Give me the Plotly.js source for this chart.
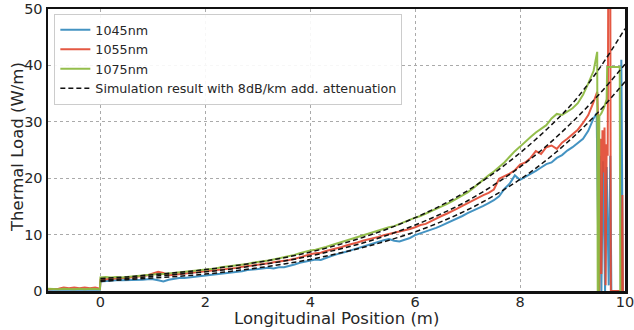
<!DOCTYPE html>
<html>
<head>
<meta charset="utf-8">
<script src="https://cdn.plot.ly/plotly-3.0.1.min.js"></script>
<style>html,body{margin:0;padding:0;background:#fff;}#chart{width:634px;height:330px;}</style>
</head>
<body>
<div id="chart"></div>
<script>
// Shared sample positions (m) for the measured curves
const positions = [-1.0,-0.9,-0.8,-0.7,-0.6,-0.5,-0.4,-0.3,-0.2,-0.1,-0.01,
 0.0,0.1,0.2,0.3,0.4,0.5,0.6,0.7,0.8,0.9,1.0,1.1,1.2,1.3,1.4,1.5,1.6,1.7,1.8,1.9,
 2.0,2.1,2.2,2.3,2.4,2.5,2.6,2.7,2.8,2.9,3.0,3.1,3.2,3.3,3.4,3.5,3.6,3.7,3.8,3.9,
 4.0,4.1,4.2,4.3,4.4,4.5,4.6,4.7,4.8,4.9,5.0,5.1,5.2,5.3,5.4,5.5,5.6,5.7,5.8,5.9,
 6.0,6.1,6.2,6.3,6.4,6.5,6.6,6.7,6.8,6.9,7.0,7.1,7.2,7.3,7.4,7.5,7.6,7.7,7.8,7.9,
 8.0,8.1,8.2,8.3,8.4,8.5,8.6,8.7,8.8,8.9,9.0,9.1,9.2,9.3,9.4];

const load1045 = [0.2,0.2,0.3,0.2,0.3,0.2,0.3,0.2,0.3,0.2,0.2,
 1.7,1.8,1.8,1.9,1.9,1.9,2.0,2.0,2.0,2.1,2.1,1.9,1.7,2.0,2.2,2.3,2.3,2.4,2.5,2.6,
 2.7,2.8,2.9,3.0,3.2,3.3,3.4,3.5,3.7,3.8,3.9,4.0,4.1,4.0,4.2,4.2,4.4,4.7,5.0,5.2,
 5.4,5.6,5.5,5.9,6.2,6.5,6.7,7.0,7.3,7.6,7.9,8.1,8.4,8.7,9.0,9.2,8.9,8.8,9.1,9.4,
 9.9,10.2,10.5,10.8,11.2,11.6,12.0,12.4,12.9,13.3,13.8,14.2,14.7,15.1,15.6,16.1,16.8,18.1,19.0,20.5,
 19.7,20.2,20.8,21.3,21.9,22.5,22.8,23.6,24.1,24.9,25.5,26.2,27.0,28.4,30.6];
const tailX1045 = [9.46,9.5,9.52,9.55,9.58,9.62,9.65,9.69,9.72,9.74,9.76,9.92,9.93,9.95,9.96];
const tailY1045 = [31.5,0,24,0,23,0,22,1,24,0,0,0,41,17,0];

const load1055 = [0.3,0.3,0.4,0.6,0.5,0.6,0.5,0.6,0.5,0.6,0.4,
 2.0,2.1,2.2,2.2,2.3,2.3,2.4,2.5,2.6,2.8,3.1,3.4,3.2,2.8,2.9,3.0,3.1,3.2,3.3,3.4,
 3.4,3.5,3.6,3.8,3.9,4.0,4.1,4.3,4.4,4.5,4.6,4.8,4.9,5.1,5.2,5.3,5.5,5.7,6.0,6.3,
 6.5,6.7,6.8,7.1,7.3,7.6,7.8,8.1,8.3,8.6,8.9,9.1,9.4,9.6,9.9,10.1,10.3,10.5,10.8,11.0,
 11.3,11.7,11.9,12.4,12.8,13.3,13.7,14.1,14.6,15.1,15.6,16.0,16.5,17.0,17.4,18.0,19.9,20.3,20.8,21.4,
 22.4,22.8,23.6,24.8,24.3,25.5,25.8,25.2,26.3,27.0,27.8,28.6,29.8,31.2,33.5];
const tailX1055 = [9.47,9.5,9.51,9.53,9.55,9.57,9.59,9.61,9.63,9.65,9.67,9.68,9.72,9.73,9.93,9.95,9.96];
const tailY1055 = [35.3,26.8,0,27,3,28.5,21,29,1,26,24,52,52,0,0,17,0];

const load1075 = [0.4,0.3,0.3,0.4,0.3,0.3,0.4,0.3,0.4,0.3,0.3,
 2.4,2.5,2.4,2.5,2.4,2.5,2.5,2.6,2.7,2.8,2.9,3.0,3.0,3.1,3.2,3.2,3.4,3.5,3.5,3.7,
 3.8,3.9,4.0,4.2,4.3,4.4,4.5,4.7,4.8,5.0,5.1,5.3,5.4,5.6,5.8,5.9,6.1,6.4,6.7,7.0,
 7.2,7.3,7.5,7.8,8.1,8.4,8.6,8.9,9.2,9.5,9.9,10.1,10.4,10.7,11.0,11.3,11.5,11.9,12.2,12.6,
 13.0,13.3,13.7,14.2,14.6,15.0,15.4,15.9,16.4,16.9,17.5,18.2,19.0,19.8,20.5,21.2,22.0,22.8,23.8,24.8,
 25.6,26.5,27.3,28.1,28.7,29.4,30.6,31.4,31.2,31.8,32.4,33.3,34.8,36.8,39.0];
const tailX1075 = [9.47,9.48,9.5,9.51,9.55,9.6,9.65,9.66,9.9,9.91];
const tailY1075 = [42.4,0,0,31,31.5,32.5,34,39.7,39.7,0];

// Simulation (8 dB/km additional attenuation)
const simPositions = [0,0.5,1,1.5,2,2.5,3,3.5,4,4.5,5,5.5,6,6.5,7,7.5,8,8.5,9,9.5,10];
const sim1075 = [2.2,2.5,2.9,3.3,3.8,4.4,5.1,5.9,6.9,8.1,9.5,11.1,13.0,15.2,17.8,20.9,24.5,28.6,33.3,39.3,46.5];
const sim1055 = [1.9,2.2,2.6,3.0,3.4,3.9,4.6,5.3,6.2,7.3,8.5,10.0,11.7,13.7,16.0,18.8,22.0,25.7,30.0,34.8,40.2];
const sim1045 = [1.7,2.0,2.3,2.6,3.0,3.5,4.1,4.8,5.6,6.6,7.7,9.0,10.5,12.3,14.4,16.9,19.8,23.2,27.2,31.8,37.1];

const seriesNames = ['1045nm','1055nm','1075nm'];
const simName = 'Simulation result with 8dB/km add. attenuation';
const xTitle = 'Longitudinal Position (m)';
const yTitle = 'Thermal Load (W/m)';
const xTicks = [0,2,4,6,8,10];
const yTicks = [0,10,20,30,40,50];

const colors = ['rgba(52,138,189,0.92)','rgba(226,74,51,0.92)','rgba(142,186,66,0.95)'];

const measured = [
  {x: positions.concat(tailX1045), y: load1045.concat(tailY1045)},
  {x: positions.concat(tailX1055), y: load1055.concat(tailY1055)},
  {x: positions.concat(tailX1075), y: load1075.concat(tailY1075)}
];

const traces = measured.map((d, i) => ({
  x: d.x, y: d.y, type: 'scatter', mode: 'lines', name: seriesNames[i],
  line: {color: colors[i], width: 2}
}));
[sim1045, sim1055, sim1075].forEach((s, i) => {
  traces.push({
    x: simPositions, y: s, type: 'scatter', mode: 'lines', name: simName,
    legendgroup: 'sim', showlegend: i === 0,
    line: {color: '#111', width: 1.5, dash: '5px,3px', shape: 'spline'}
  });
});

const axisCommon = {
  showline: true, mirror: true, linecolor: '#111', linewidth: 2.5,
  showgrid: true, gridcolor: '#aaaaaa', griddash: 'dot', gridwidth: 1,
  zeroline: false, ticks: '', automargin: false, ticklabeloverflow: 'allow',
  tickfont: {family: 'DejaVu Sans', size: 14.5, color: '#262626'}
};

const layout = {
  width: 634, height: 330,
  margin: {l: 48, r: 9, t: 9, b: 39},
  paper_bgcolor: '#fff', plot_bgcolor: '#fff',
  showlegend: true,
  font: {family: 'DejaVu Sans', color: '#262626'},
  xaxis: Object.assign({}, axisCommon, {
    range: [-1, 10], tickvals: xTicks, ticktext: xTicks.map(String),
    ticklabelstandoff: -4
  }),
  yaxis: Object.assign({}, axisCommon, {
    range: [0, 50], tickvals: yTicks, ticktext: yTicks.map(String)
  }),
  annotations: [
    {text: xTitle, xref: 'paper', yref: 'paper', x: 0.5, y: -0.097,
     xanchor: 'center', yanchor: 'middle', showarrow: false,
     font: {family: 'DejaVu Sans', size: 16.5, color: '#262626'}},
    {text: yTitle, xref: 'paper', yref: 'paper', x: -0.054, y: 0.51,
     xanchor: 'center', yanchor: 'middle', showarrow: false, textangle: -90,
     font: {family: 'DejaVu Sans', size: 16.5, color: '#262626'}}
  ],
  legend: {
    x: 0.011, y: 0.982, xanchor: 'left', yanchor: 'top',
    bgcolor: 'rgba(255,255,255,0.9)', bordercolor: '#cccccc', borderwidth: 1,
    font: {family: 'DejaVu Sans', size: 12.7, color: '#262626'},
    itemwidth: 30, tracegroupgap: 0
  }
};

Plotly.newPlot('chart', traces, layout, {staticPlot: true, displayModeBar: false});
</script>
</body>
</html>
